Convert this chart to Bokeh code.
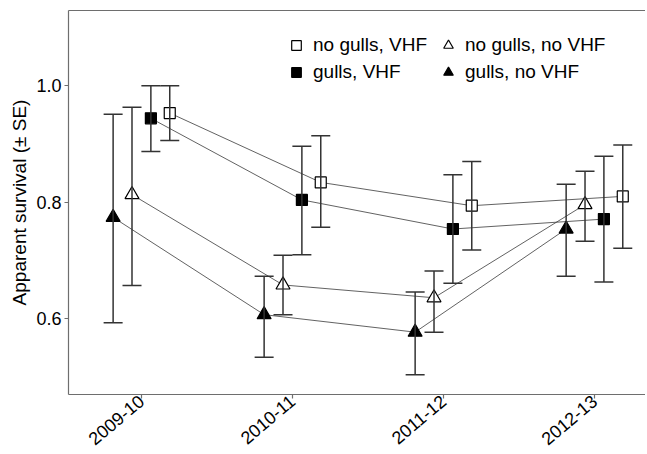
import numpy as np
from bokeh.plotting import figure
from bokeh.models import (ColumnDataSource, Whisker, TeeHead, Range1d, FixedTicker,
                          LinearAxis, Legend, LegendItem)
from bokeh.embed import file_html
from bokeh.resources import INLINE

# ---------------- data ----------------
seasons = ["2009-10", "2010-11", "2011-12", "2012-13"]
y_ticks = [0.6, 0.8, 1.0]

gulls_no_vhf = [0.774, 0.607, 0.577, 0.754]
gulls_no_vhf_lo = [0.593, 0.534, 0.504, 0.673]
gulls_no_vhf_hi = [0.951, 0.673, 0.646, 0.831]

no_gulls_no_vhf = [0.813, 0.658, 0.636, 0.796]
no_gulls_no_vhf_lo = [0.657, 0.607, 0.577, 0.733]
no_gulls_no_vhf_hi = [0.963, 0.709, 0.682, 0.853]

gulls_vhf = [0.944, 0.804, 0.754, 0.771]
gulls_vhf_lo = [0.887, 0.710, 0.661, 0.663]
gulls_vhf_hi = [1.000, 0.896, 0.847, 0.879]

no_gulls_vhf = [0.953, 0.834, 0.794, 0.810]
no_gulls_vhf_lo = [0.906, 0.757, 0.718, 0.721]
no_gulls_vhf_hi = [1.000, 0.914, 0.870, 0.898]

# ---------------- style ----------------
FONT = "Liberation Sans"
FS_TICK = "18px"
FS_TEXT = "19px"
AX_COL = "#6e6e6e"
BAR_COL = "#333333"
DODGE = 0.5  # total dodge width for the 4 groups

series = [
    ("gulls, no VHF", gulls_no_vhf, gulls_no_vhf_lo, gulls_no_vhf_hi, "triangle", "black", 14, 0),
    ("no gulls, no VHF", no_gulls_no_vhf, no_gulls_no_vhf_lo, no_gulls_no_vhf_hi, "triangle", "white", 14, 1),
    ("gulls, VHF", gulls_vhf, gulls_vhf_lo, gulls_vhf_hi, "square", "black", 11, 2),
    ("no gulls, VHF", no_gulls_vhf, no_gulls_vhf_lo, no_gulls_vhf_hi, "square", "white", 11, 3),
]

p = figure(width=645, height=454, output_backend="svg", toolbar_location=None,
           x_range=Range1d(0.517, 4.338), y_range=Range1d(0.470, 1.129),
           min_border_left=68, min_border_right=0, min_border_top=10, min_border_bottom=60)
p.xgrid.visible = False
p.ygrid.visible = False
p.outline_line_color = None
p.background_fill_color = "white"

base = np.arange(1, len(seasons) + 1)
n = len(series)
renderers = {}
sources = []
for label, y, lo, hi, marker, fill, size, k in series:
    off = (k - (n - 1) / 2) * DODGE / n
    src = ColumnDataSource(dict(x=base + off, y=y, lo=lo, hi=hi))
    sources.append((src, marker, fill, size, label))
    p.line("x", "y", source=src, line_color="#3a3a3a", line_width=0.8)

for src, marker, fill, size, label in sources:
    w = Whisker(base="x", upper="hi", lower="lo", source=src, dimension="height",
                line_color=BAR_COL, line_width=1.5,
                upper_head=TeeHead(size=19, line_color=BAR_COL, line_width=1.5),
                lower_head=TeeHead(size=19, line_color=BAR_COL, line_width=1.5))
    w.level = "glyph"
    p.add_layout(w)

for src, marker, fill, size, label in sources:
    r = p.scatter("x", "y", source=src, marker=marker, size=size,
                  fill_color=fill, line_color="black", line_width=1.2)
    renderers[label] = r


def make_legend(labels, loc):
    lg = Legend(items=[LegendItem(label=l, renderers=[renderers[l]]) for l in labels],
                location=loc)
    lg.glyph_width = 24
    lg.glyph_height = 24
    lg.label_height = 24
    lg.label_standoff = 5
    lg.spacing = 3
    lg.padding = 0
    lg.margin = 0
    lg.border_line_color = None
    lg.background_fill_alpha = 0
    lg.label_text_font = FONT
    lg.label_text_font_size = FS_TEXT
    lg.label_text_color = "black"
    return lg


p.add_layout(make_legend(["no gulls, VHF", "gulls, VHF"], (216, 310)))
p.add_layout(make_legend(["no gulls, no VHF", "gulls, no VHF"], (368, 310)))

# axes
for ax in (p.xaxis[0], p.yaxis[0]):
    ax.axis_line_color = AX_COL
    ax.axis_line_width = 1.2
    ax.major_tick_line_color = AX_COL
    ax.major_tick_line_width = 1.2
    ax.major_tick_out = 4
    ax.major_tick_in = 0
    ax.minor_tick_line_color = None
    ax.major_label_text_font = FONT
    ax.major_label_text_font_size = FS_TICK
    ax.major_label_text_color = "black"

p.xaxis.ticker = FixedTicker(ticks=list(base))
p.xaxis.major_label_overrides = {int(b): s for b, s in zip(base, seasons)}
p.xaxis.major_label_orientation = 0.7
p.xaxis.major_label_standoff = 0

p.yaxis.ticker = FixedTicker(ticks=y_ticks)
p.yaxis.major_label_overrides = {t: f"{t:.1f}" for t in y_ticks}
p.yaxis.major_label_standoff = 3
p.yaxis.axis_label = "Apparent survival (\u00b1 SE)"
p.yaxis.axis_label_text_font = FONT
p.yaxis.axis_label_text_font_size = FS_TEXT
p.yaxis.axis_label_text_font_style = "normal"
p.yaxis.axis_label_text_color = "black"
p.yaxis.axis_label_standoff = 3

top = LinearAxis(ticker=FixedTicker(ticks=[]), axis_line_color=AX_COL, axis_line_width=1.2,
                 major_tick_line_color=None, minor_tick_line_color=None,
                 major_label_text_font_size="0px", major_tick_out=0, major_label_standoff=0)
p.add_layout(top, "above")

open("out.html", "w").write(file_html(p, INLINE))
